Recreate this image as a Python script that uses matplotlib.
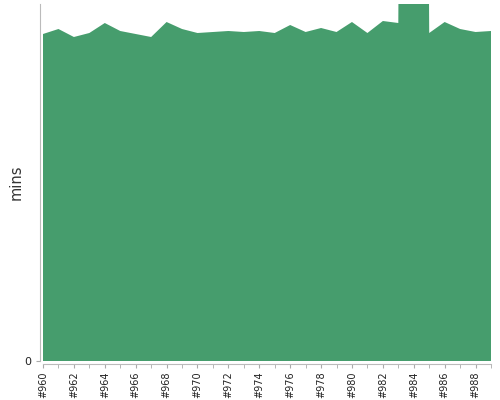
import numpy as np
import matplotlib
matplotlib.use('Agg')
import matplotlib.pyplot as plt

# data (minutes per build)
builds = [f'#{n}' for n in range(960, 990)]
mins = [327, 332, 324, 328, 338, 330, 327, 324, 339, 332,
        328, 329, 330, 329, 330, 328, 336, 329, 333, 329,
        339, 328, 340, 338, 3000, 328, 339, 332, 329, 330]
y_max = 357

fig = plt.figure(figsize=(5, 4), dpi=100)
ax = fig.add_axes([0.086, 0.0975, 0.896, 0.8925])

x = np.arange(len(builds))
ax.fill_between(x, 0, mins, color='#469d6d', lw=0)

ax.set_xlim(0, len(builds) - 1)
ax.set_ylim(0, y_max)

# x ticks: one per build, label every second one
ax.tick_params(axis='x', which='both', length=3, color='#aaaaaa', pad=2,
               labelsize=7, labelcolor='#222222', labelrotation=90)
ax.set_xticks(x, minor=True)
ax.set_xticks(x[::2])
ax.set_xticklabels(builds[::2])

ax.tick_params(axis='y', length=3, color='#aaaaaa', pad=3,
               labelsize=8, labelcolor='#222222')
ax.set_yticks([0])
ax.set_yticklabels(['0'])
ax.set_ylabel('mins', fontsize=10.5, color='#333333', labelpad=1)

for side in ['top', 'right']:
    ax.spines[side].set_visible(False)
for side in ['left', 'bottom']:
    ax.spines[side].set_position(('outward', 2.2))
    ax.spines[side].set_color('#bbbbbb')

fig.savefig('out.png', dpi=100)
